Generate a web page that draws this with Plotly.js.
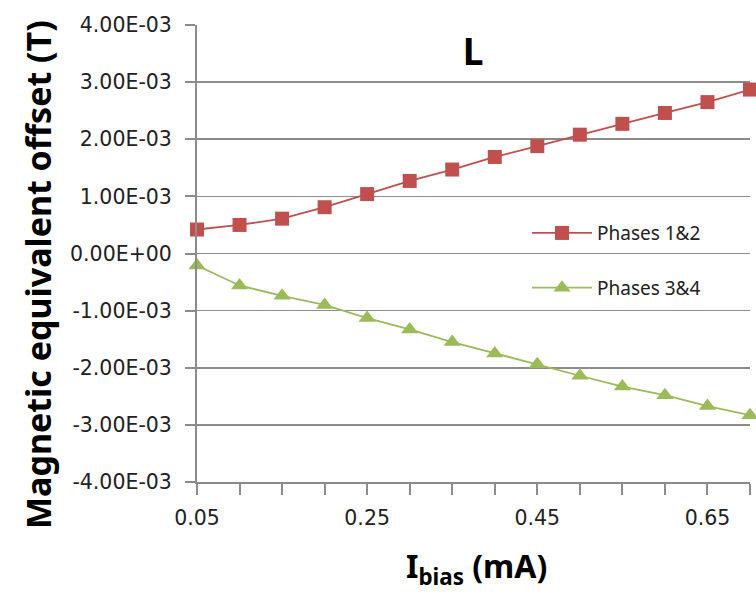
<!DOCTYPE html>
<html>
<head>
<meta charset="utf-8">
<script src="https://cdn.plot.ly/plotly-3.0.1.min.js"></script>
<style>html,body{margin:0;padding:0;background:#fff;}#chart{width:756px;height:597px;}</style>
</head>
<body>
<div id="chart"></div>
<script>
// Data
var ibias = [0.05, 0.10, 0.15, 0.20, 0.25, 0.30, 0.35, 0.40, 0.45, 0.50, 0.55, 0.60, 0.65, 0.70];
var phases12 = [0.42e-3, 0.50e-3, 0.61e-3, 0.81e-3, 1.04e-3, 1.27e-3, 1.47e-3, 1.69e-3, 1.88e-3, 2.08e-3, 2.27e-3, 2.46e-3, 2.65e-3, 2.87e-3];
var phases34 = [-0.21e-3, -0.56e-3, -0.74e-3, -0.90e-3, -1.13e-3, -1.33e-3, -1.55e-3, -1.75e-3, -1.94e-3, -2.14e-3, -2.33e-3, -2.48e-3, -2.67e-3, -2.83e-3];
var seriesNames = ["Phases 1&2", "Phases 3&4"];
var xTickVals = [0.05, 0.25, 0.45, 0.65];
var xTickLabels = ["0.05", "0.25", "0.45", "0.65"];
var yTickVals = [-4e-3, -3e-3, -2e-3, -1e-3, 0, 1e-3, 2e-3, 3e-3, 4e-3];
var yTickLabels = ["-4.00E-03", "-3.00E-03", "-2.00E-03", "-1.00E-03", "0.00E+00", "1.00E-03", "2.00E-03", "3.00E-03", "4.00E-03"];
var chartTitle = "L";
var xTitle = "I<sub>bias</sub> (mA)";
var yTitle = "Magnetic equivalent offset (T)";

var red = "#C0504D", green = "#9BBB59", grid = "#8C8C8C";
var traces = [
  {x: ibias, y: phases12, name: seriesNames[0], type: "scatter", mode: "lines+markers", legendgroup: "a",
   line: {color: red, width: 1.8}, marker: {symbol: "square", size: 14, color: red}, cliponaxis: false},
  {x: ibias, y: phases34, name: seriesNames[1], type: "scatter", mode: "lines+markers", legendgroup: "b",
   line: {color: green, width: 1.8}, marker: {symbol: "triangle-up", size: 15, color: green}, cliponaxis: false}
];
var tickFont = {family: "DejaVu Sans", size: 20.5, color: "#222"};
var layout = {
  width: 756, height: 597,
  margin: {l: 197, r: 6, t: 24.5, b: 114.5, pad: 0},
  paper_bgcolor: "#fff", plot_bgcolor: "#fff",
  showlegend: true,
  title: {text: chartTitle, x: 473/756, xref: "container", xanchor: "center", y: 1 - 52/597, yref: "container", yanchor: "middle",
          font: {family: "Noto Sans", size: 37, color: "#000", weight: "bold"}},
  xaxis: {range: [0.05, 0.70], tickmode: "array", tickvals: xTickVals, ticktext: xTickLabels,
          ticks: "outside", ticklen: 11, tickwidth: 2, tickcolor: grid, showgrid: false, zeroline: false,
          minor: {tickmode: "array", tickvals: ibias, ticks: "outside", ticklen: 11, tickwidth: 2, tickcolor: grid, showgrid: false},
          showline: true, linecolor: grid, linewidth: 2, tickfont: tickFont, ticklabelstandoff: 5},
  yaxis: {range: [-4e-3, 4e-3], tickmode: "array", tickvals: yTickVals, ticktext: yTickLabels,
          ticks: "outside", ticklen: 10, tickwidth: 2, tickcolor: grid, showgrid: true, gridcolor: grid, gridwidth: 1.6,
          zeroline: false, showline: true, linecolor: grid, linewidth: 2, tickfont: tickFont, ticklabelstandoff: 9},
  legend: {x: (527-197)/553, xanchor: "left", y: (482.5-214)/458, yanchor: "top", bgcolor: "rgba(0,0,0,0)",
           font: {family: "Noto Sans", size: 19, color: "#222"}, traceorder: "grouped", tracegroupgap: 27, itemwidth: 60},
  annotations: [
    {text: yTitle, textangle: -90, xref: "paper", yref: "paper", x: (38-197)/553, y: (482.5-275)/458,
     xanchor: "center", yanchor: "middle", showarrow: false, font: {family: "Noto Sans", size: 34, color: "#000", weight: "bold"}},
    {text: xTitle, xref: "paper", yref: "paper", x: (476-197)/553, y: (482.5-569)/458,
     xanchor: "center", yanchor: "middle", showarrow: false, font: {family: "Noto Sans", size: 32, color: "#000", weight: "bold"}}
  ]
};
Plotly.newPlot("chart", traces, layout, {displayModeBar: false, staticPlot: true});
</script>
</body>
</html>
